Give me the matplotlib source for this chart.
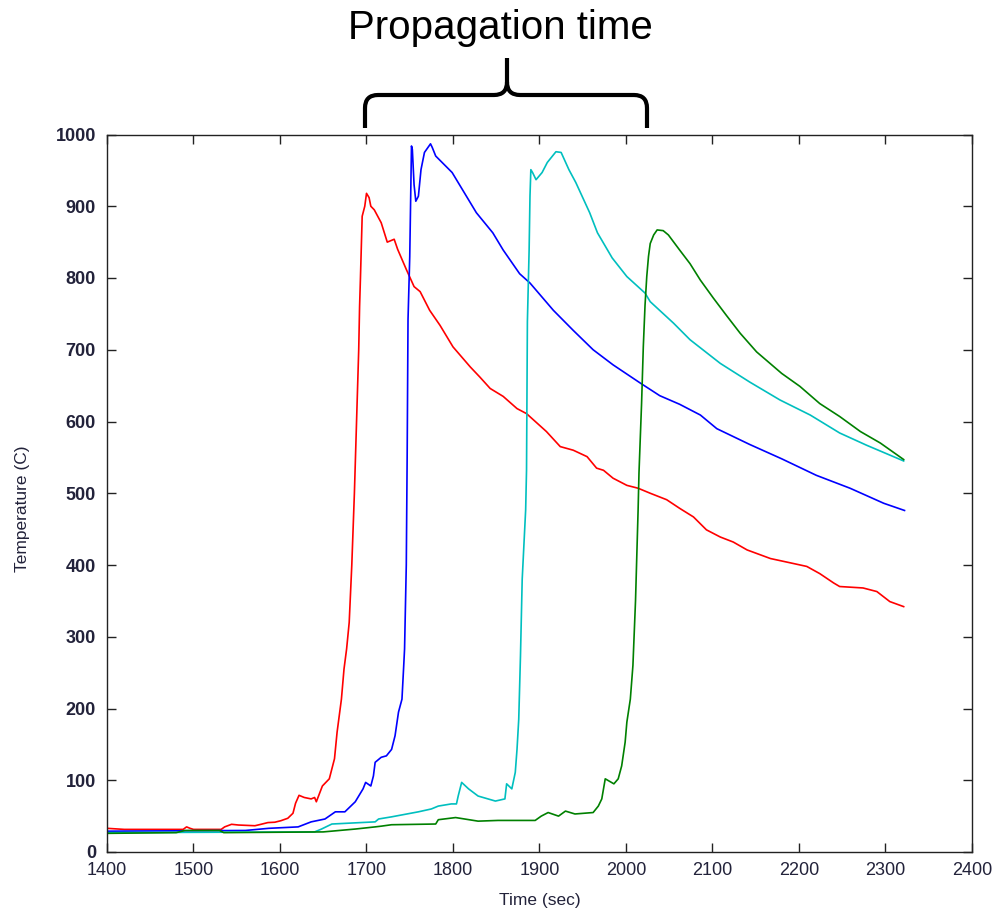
"""
Thermocouple temperature histories along the flame path, with a brace
marking the propagation time between the first and last sensor.
"""

import matplotlib
matplotlib.use("Agg")
import matplotlib.pyplot as plt
from matplotlib.path import Path
from matplotlib.patches import PathPatch

# ── data ───────────────────────────────────────────────────────────────────
red_t = [1400, 1420, 1488, 1492, 1496, 1500, 1532, 1536, 1544, 1552, 1571, 1578,
         1586, 1594, 1601, 1609, 1615, 1618, 1622, 1628, 1636, 1640, 1642, 1649,
         1657, 1663, 1666, 1671, 1674, 1677, 1680, 1683, 1686, 1689, 1691, 1692,
         1693, 1695, 1698, 1700, 1703, 1705, 1709, 1717, 1724, 1732, 1736, 1746,
         1755, 1762, 1773, 1785, 1800, 1820, 1831, 1843, 1858, 1874, 1885, 1908,
         1924, 1939, 1955, 1966, 1974, 1985, 2001, 2014, 2028, 2047, 2062, 2078,
         2093, 2109, 2124, 2140, 2167, 2190, 2209, 2224, 2240, 2247, 2274, 2290,
         2305, 2321]
red_T = [33, 31.5, 31.5, 35, 33, 31.5, 31.5, 35, 38.6, 37.6, 36.6, 38.6,
         41, 41.5, 43.6, 47, 54, 68, 79, 76, 74, 76, 70, 92,
         102, 130, 167, 213, 255, 283, 320, 400, 500, 620, 700, 760,
         800, 886, 900, 918, 912, 900, 895, 877, 850, 854, 840, 812,
         788, 781, 755, 734, 704, 676, 662, 646, 635, 618, 611, 586,
         565, 560, 551, 535, 532, 521, 511, 507, 500, 491, 479, 467,
         449, 439, 432, 421, 409, 403, 398, 388, 375, 370, 368, 363,
         349, 342]

blue_t = [1400, 1560, 1587, 1621, 1636, 1652, 1664, 1675, 1687, 1696, 1699, 1705,
          1708, 1710, 1717, 1723, 1729, 1733, 1737, 1741, 1743, 1744, 1746, 1747,
          1748, 1750, 1752, 1753, 1755, 1757, 1760, 1763, 1767, 1774, 1776, 1780,
          1799, 1827, 1846, 1858, 1877, 1889, 1916, 1939, 1962, 1985, 2016, 2039,
          2062, 2086, 2105, 2143, 2180, 2220, 2259, 2298, 2322]
blue_T = [29, 30, 33, 35, 42, 46, 56, 56, 70, 88, 97, 92,
          106, 125, 132, 134, 143, 162, 195, 213, 259, 283, 400, 550,
          742, 830, 984, 979, 930, 907, 914, 951, 975, 987, 982, 970,
          947, 891, 863, 839, 806, 793, 755, 727, 700, 679, 654, 636,
          624, 609, 590, 568, 548, 525, 507, 486, 476]

cyan_t = [1400, 1640, 1648, 1660, 1710, 1714, 1729, 1760, 1775, 1783, 1798, 1804,
          1806, 1810, 1818, 1829, 1849, 1860, 1862, 1868, 1872, 1874, 1876, 1878,
          1880, 1884, 1885, 1886, 1888, 1889, 1890, 1892, 1896, 1903, 1909, 1919,
          1925, 1934, 1942, 1958, 1967, 1984, 2001, 2022, 2028, 2055, 2074, 2109,
          2143, 2178, 2213, 2247, 2278, 2321]
cyan_T = [27, 28, 32, 39, 42, 46, 49, 56, 60, 64, 67, 67,
          78, 97, 88, 78, 71, 74, 95, 88, 111, 143, 185, 273,
          380, 477, 532, 739, 839, 914, 951, 947, 937, 947, 961, 976,
          975, 951, 933, 891, 863, 828, 802, 779, 767, 737, 714, 681,
          655, 630, 609, 584, 567, 545]

green_t = [1400, 1480, 1490, 1530, 1535, 1650, 1687, 1710, 1717, 1729, 1780, 1783,
           1803, 1829, 1852, 1895, 1902, 1910, 1922, 1930, 1941, 1962, 1968, 1972,
           1976, 1986, 1991, 1995, 1999, 2001, 2005, 2008, 2011, 2014, 2015, 2018,
           2020, 2022, 2024, 2026, 2028, 2032, 2036, 2043, 2049, 2062, 2074, 2086,
           2101, 2116, 2132, 2151, 2180, 2201, 2224, 2247, 2271, 2294, 2321]
green_T = [26, 27, 30, 30, 27, 28, 32, 35, 36, 38, 39, 45,
           48, 43, 44, 44, 50, 55, 50, 57, 53, 55, 64, 74,
           102, 95, 102, 120, 153, 181, 213, 260, 350, 477, 528, 625,
           704, 762, 802, 830, 848, 860, 867, 866, 860, 839, 820, 797,
           772, 748, 723, 697, 667, 649, 625, 607, 586, 570, 547]

x_ticks = list(range(1400, 2401, 100))
y_ticks = list(range(0, 1001, 100))

# ── style ──────────────────────────────────────────────────────────────────
plt.rcParams["font.family"] = ["Liberation Sans", "DejaVu Sans"]
TXT = "#22223a"
W, H = 1003, 915

fig = plt.figure(figsize=(W / 100, H / 100), dpi=100)
fig.patch.set_facecolor("white")
ax = fig.add_axes([107 / W, (H - 852) / H, 865 / W, 717.5 / H])

ax.plot(red_t, red_T, color="#ff0000", lw=1.2)
ax.plot(blue_t, blue_T, color="#0000ff", lw=1.2)
ax.plot(cyan_t, cyan_T, color="#00bfbf", lw=1.2)
ax.plot(green_t, green_T, color="#008000", lw=1.2)

ax.set_xlim(1400, 2400)
ax.set_ylim(0, 1000)
ax.set_xticks(x_ticks)
ax.set_yticks(y_ticks)
ax.tick_params(direction="in", length=6.5, width=1, top=True, right=True,
               colors="#222222", labelcolor=TXT, labelsize=13)
ax.tick_params(axis="x", pad=7)
ax.tick_params(axis="y", pad=8)
for lab in ax.get_yticklabels():
    lab.set_fontweight("bold")
for sp in ax.spines.values():
    sp.set_linewidth(1.0)
    sp.set_color("#222222")

ax.set_xlabel("Time (sec)", fontsize=12.5, color=TXT, va="center")
ax.xaxis.set_label_coords(0.5, -0.067)
ax.set_ylabel("Temperature (C)", fontsize=12.5, color=TXT, va="center", ha="center")
ax.yaxis.set_label_coords(-0.098, 0.478)

# ── brace + annotation above the axes ──────────────────────────────────────
def px(x, y):
    return (x / W, (H - y) / H)

verts = [px(365, 128), px(365, 108), px(365, 95), px(378, 95), px(494, 95),
         px(507, 95), px(507, 82), px(507, 58), px(507, 82), px(507, 95),
         px(520, 95), px(634, 95), px(647, 95), px(647, 108), px(647, 128)]
codes = [Path.MOVETO, Path.LINETO, Path.CURVE3, Path.CURVE3, Path.LINETO,
         Path.CURVE3, Path.CURVE3, Path.LINETO, Path.MOVETO, Path.CURVE3,
         Path.CURVE3, Path.LINETO, Path.CURVE3, Path.CURVE3, Path.LINETO]
brace = PathPatch(Path(verts, codes), transform=fig.transFigure, fill=False,
                  edgecolor="black", lw=3, capstyle="butt", joinstyle="round")
fig.patches.append(brace)

fig.text(500 / W, (H - 39) / H, "Propagation time", fontsize=29,
         ha="center", va="baseline", color="black")

fig.savefig("out.png", dpi=100, facecolor="white")
plt.close(fig)
